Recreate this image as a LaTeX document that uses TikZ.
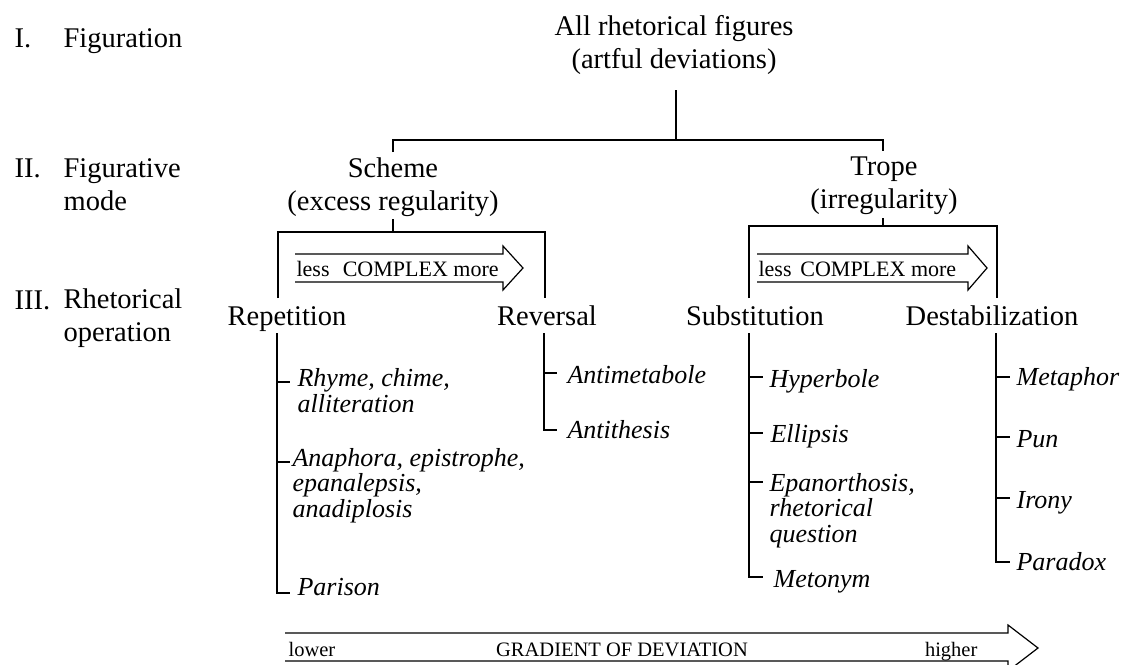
\documentclass[tikz,border=0pt]{standalone}
\usepackage{fontspec}
\setmainfont{Liberation Serif}
\begin{document}
\begin{tikzpicture}[x=1pt,y=-1pt,
  line width=1.2pt, line cap=butt, line join=miter,
  lbl/.style={inner sep=0pt, font=\fontsize{28.5}{32.5}\selectfont},
  lvl/.style={lbl, anchor=base west, align=left},
  head/.style={lbl, anchor=base, align=center},
  item/.style={inner sep=0pt, anchor=base west, align=left,
    font=\fontsize{26}{25.5}\selectfont\itshape},
  scale text/.style={inner sep=0pt, font=\fontsize{22}{24}\selectfont},
  grad text/.style={inner sep=0pt, font=\fontsize{20.5}{24}\selectfont},
  conn/.style={draw=black}]
\useasboundingbox (0,0) rectangle (1124,664);

% level labels (multi-line nodes are placed by the baseline of their last line)
\node[lvl] (l1n) at (14,47) {I.};
\node[lvl] (l1) at (63,47) {Figuration};
\node[lvl] (l2n) at (14,177) {II.};
\node[lvl] (l2) at (63,210) {Figurative\\mode};
\node[lvl] (l3n) at (14,309) {III.};
\node[lvl] (l3) at (63,341) {Rhetorical\\operation};

% tree heads
\node[head] (top) at (674,68) {All rhetorical figures\\(artful deviations)};
\node[head] (scheme) at (393,210) {Scheme\\(excess regularity)};
\node[head] (trope) at (884,208) {Trope\\(irregularity)};
\node[head] (rep) at (287,325) {Repetition};
\node[head] (rev) at (547,325) {Reversal};
\node[head] (sub) at (755,325) {Substitution};
\node[head] (dest) at (992,325) {Destabilization};

% junction points
\coordinate (t0) at (676,90);
\coordinate (t1) at (676,140);
\coordinate (sA) at (393,152);
\coordinate (tA) at (883,151);
\coordinate (sB) at (393,219);
\coordinate (tB) at (883,218);
\coordinate (repTop) at (278,298);
\coordinate (revTop) at (545,298);
\coordinate (subTop) at (749,298);
\coordinate (destTop) at (997,298);

% top split
\draw[conn] (t0) -- (t1);
\draw[conn] (sA) |- (t1) -| (tA);
% scheme bracket
\draw[conn] (sB) -- (393,232);
\draw[conn] (repTop) |- (393,232) -| (revTop);
% trope bracket
\draw[conn] (tB) -- (883,226);
\draw[conn] (subTop) |- (883,226) -| (destTop);

% complexity arrows
\draw[conn] (295,254) -- (503,254) -- (503,246) -- (523,268) -- (503,290) -- (503,282) -- (295,282);
\node[scale text, anchor=base west] (cx1) at (296,276) {less\hspace{0.35em} COMPLEX more};
\draw[conn] (757,254) -- (968,254) -- (968,246) -- (987,268) -- (968,290) -- (968,282) -- (757,282);
\node[scale text, anchor=base west] (cx2) at (758,276) {less\hspace{0.15em} COMPLEX more};

% Repetition items
\node[item] (rhyme) at (297,412) {Rhyme, chime,\\alliteration};
\node[item] (ana) at (292,517) {Anaphora, epistrophe,\\epanalepsis,\\anadiplosis};
\node[item] (par) at (297,595) {Parison};
\draw[conn] (277,333) -- (277,593) -- (290,593);
\draw[conn] (277,382) -- (290,382);
\draw[conn] (277,462) -- (290,462);

% Reversal items
\node[item] (antim) at (567,383) {Antimetabole};
\node[item] (antit) at (567,438) {Antithesis};
\draw[conn] (544,333) -- (544,430) -- (557,430);
\draw[conn] (544,373) -- (557,373);

% Substitution items
\node[item] (hyp) at (769,387) {Hyperbole};
\node[item] (ell) at (770,442) {Ellipsis};
\node[item] (epa) at (769,542) {Epanorthosis,\\rhetorical\\question};
\node[item] (met) at (773,587) {Metonym};
\draw[conn] (749,333) -- (749,577) -- (763,577);
\draw[conn] (749,377) -- (763,377);
\draw[conn] (749,433) -- (763,433);
\draw[conn] (749,482) -- (763,482);

% Destabilization items
\node[item] (meta) at (1016,385) {Metaphor};
\node[item] (pun) at (1016,447) {Pun};
\node[item] (iro) at (1016,508) {Irony};
\node[item] (para) at (1016,570) {Paradox};
\draw[conn] (996,333) -- (996,562) -- (1010,562);
\draw[conn] (996,377) -- (1010,377);
\draw[conn] (996,437) -- (1010,437);
\draw[conn] (996,498) -- (1010,498);

% gradient arrow
\draw[conn] (285,633) -- (1008,633) -- (1008,625) -- (1038,648) -- (1008,671) -- (1008,661) -- (285,661);
\node[grad text, anchor=base west] (low) at (288,656) {lower};
\node[grad text, anchor=base] (grad) at (622,656) {GRADIENT OF DEVIATION};
\node[grad text, anchor=base east] (high) at (978,656) {higher};
\end{tikzpicture}
\end{document}
